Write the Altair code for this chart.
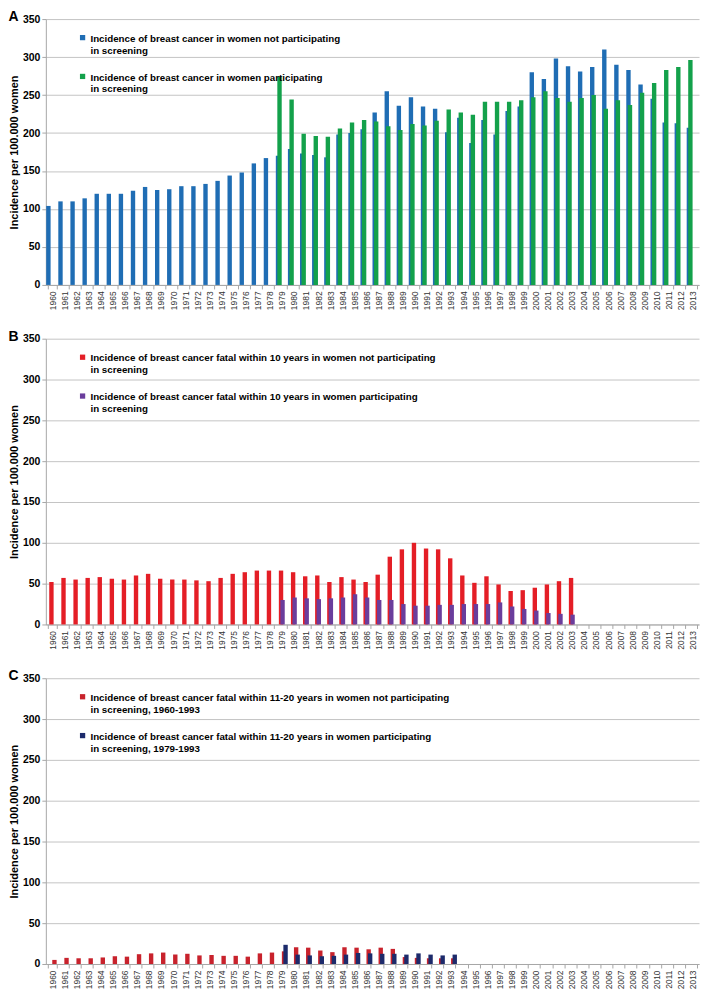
import altair as alt
import pandas as pd

FONT = "Liberation Sans"

years = [str(y) for y in range(1960, 2014)]

# Panel A
a_series = [
    "Incidence of breast cancer in women not participating in screening",
    "Incidence of breast cancer in women participating in screening",
]
a_not_years = years  # 1960-2013
a_not = [104, 110, 110, 114, 120, 120, 120, 124, 129, 125, 126, 130, 130, 133, 137, 144, 148, 160, 167,
         170, 179, 173, 171, 168, 198, 200, 205, 227, 255, 236, 247, 235, 232, 201, 220, 187, 217, 198,
         229, 235, 280, 271, 298, 288, 281, 287, 310, 290, 283, 264, 245, 214, 213, 207]
a_part_years = [str(y) for y in range(1979, 2014)]
a_part = [274, 244, 199, 196, 195, 206, 214, 217, 215, 209, 204, 212, 210, 216, 231, 227, 224, 241,
          241, 241, 243, 247, 255, 246, 241, 246, 250, 232, 243, 237, 253, 266, 283, 287, 296]

# Panel B
b_series = [
    "Incidence of breast cancer fatal within 10 years in women not participating in screening",
    "Incidence of breast cancer fatal within 10 years in women participating in screening",
]
b_not_years = [str(y) for y in range(1960, 2004)]
b_not = [52, 57, 55, 57, 58, 56, 55, 60, 62, 56, 55, 55, 54, 53, 57, 62, 64, 66, 66,
         66, 64, 59, 60, 52, 58, 55, 52, 61, 83, 92, 100, 93, 92, 81, 60, 51, 59, 49, 41, 42, 45, 49, 53, 57]
b_part_years = [str(y) for y in range(1979, 2004)]
b_part = [30, 33, 32, 31, 32, 33, 37, 33, 30, 30, 25, 23, 23, 24, 24, 25, 25, 25, 27, 22, 19, 17, 14, 13, 12]

# Panel C
c_series = [
    "Incidence of breast cancer fatal within 11-20 years in women not participating in screening, 1960-1993",
    "Incidence of breast cancer fatal within 11-20 years in women participating in screening, 1979-1993",
]
c_not_years = [str(y) for y in range(1960, 1994)]
c_not = [5, 7.5, 7, 7, 8, 9.5, 9, 12, 13, 14, 11.5, 12.5, 10.5, 11, 10, 10, 9, 13, 14,
         15.5, 20.5, 20, 16.5, 14.5, 20.5, 20, 18, 20, 18.5, 8.5, 7.5, 7, 7, 7]
c_part_years = [str(y) for y in range(1979, 1994)]
c_part = [23.5, 11.5, 10.5, 9.5, 10, 11.5, 13.5, 13, 12.5, 12.5, 11.5, 13, 11.5, 10.5, 11.5]

a_colors = ["#1f6db4", "#13a14b"]
b_colors = ["#e41e26", "#6a3d9c"]
c_colors = ["#c8222c", "#1c2a6b"]


def make_df(series, y1, v1, y2, v2):
    rows = [{"year": y, "series": series[0], "value": v} for y, v in zip(y1, v1)]
    rows += [{"year": y, "series": series[1], "value": v} for y, v in zip(y2, v2)]
    return pd.DataFrame(rows)


LABEL_EXPR = ("[slice(datum.label, 0, indexof(datum.label, ' in screening')), "
              "slice(datum.label, indexof(datum.label, ' in screening') + 1)]")

# square symbol shifted down so that it sits beside the first label line
SYMBOL = "M-1,0.4H1V2.4H-1Z"

W = 656


def panel(letter, df, series, colors, height):
    return alt.Chart(df).mark_bar(width=4.4).encode(
        x=alt.X("year:N",
                scale=alt.Scale(domain=years, paddingInner=0.25, paddingOuter=0.15),
                axis=alt.Axis(title=None, labelAngle=270, tickBand="extent", labelFontSize=8.5,
                              labelColor="#333333", labelFont=FONT, labelPadding=2,
                              tickSize=4, grid=False, labelBaseline="middle", labelAlign="right")),
        xOffset=alt.XOffset("series:N",
                            scale=alt.Scale(domain=series, paddingInner=0, paddingOuter=0)),
        y=alt.Y("value:Q",
                scale=alt.Scale(domain=[0, 350]),
                axis=alt.Axis(values=list(range(0, 351, 50)), title="Incidence per 100.000 women",
                              titleFont=FONT, titleFontSize=11, titleFontWeight="bold",
                              titleColor="#000000", titlePadding=3,
                              labelFont=FONT, labelFontSize=10.5, labelFontWeight="bold",
                              labelColor="#000000", labelPadding=2, tickSize=4,
                              gridColor="#c4c4c4")),
        color=alt.Color("series:N",
                        scale=alt.Scale(domain=series, range=colors),
                        legend=alt.Legend(orient="none", legendX=32, legendY=10, title=None,
                                          symbolType=SYMBOL, symbolSize=28, symbolStrokeWidth=0,
                                          labelFont=FONT, labelFontSize=9.8, labelFontWeight="bold",
                                          labelColor="#000000", labelLimit=600,
                                          labelExpr=LABEL_EXPR, rowPadding=12,
                                          labelBaseline="top", labelOffset=3)),
    ).properties(
        width=W, height=height,
        title=alt.TitleParams(letter, anchor="start", font=FONT, fontSize=14, fontWeight="bold",
                              color="#000000", offset=-10),
    )


pa = panel("A", make_df(a_series, a_not_years, a_not, a_part_years, a_part), a_series, a_colors, 267)
pb = panel("B", make_df(b_series, b_not_years, b_not, b_part_years, b_part), b_series, b_colors, 287)
pc = panel("C", make_df(c_series, c_not_years, c_not, c_part_years, c_part), c_series, c_colors, 287)

chart = alt.vconcat(pa, pb, pc, spacing=20).resolve_scale(color="independent").configure_view(
    stroke=None
).configure_axis(
    domainColor="#a6a6a6", tickColor="#a6a6a6"
).properties(padding={"left": 0, "top": 0, "right": 2, "bottom": 0})

chart.save("out.html", embed_options={"renderer": "svg", "actions": False})
